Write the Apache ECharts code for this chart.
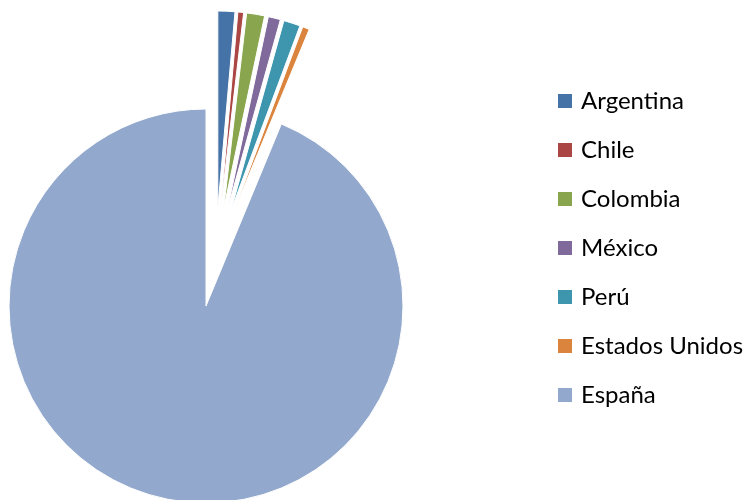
<!DOCTYPE html>
<html>
<head>
<meta charset="utf-8">
<script src="https://cdn.jsdelivr.net/npm/echarts@6/dist/echarts.min.js"></script>
<style>
  html, body { margin: 0; padding: 0; background: #fff; }
  #chart { width: 747px; height: 500px; }
</style>
</head>
<body>
<div id="chart"></div>
<script>
// Share of each country
const countries = ['Argentina', 'Chile', 'Colombia', 'México', 'Perú', 'Estados Unidos', 'España'];
const values = [139, 47, 147, 100, 136, 56, 9375];
const colors = ['#4572A7', '#AA4643', '#89A54E', '#80699B', '#3D96AE', '#DB843D', '#92A8CD'];

// Every slice is pulled out from the common centre by the same distance
const radius = 197;
const explode = 49.5;

// Place the pie so that the big slice sits at (206, 306) after being pulled out
const total = values.reduce((a, b) => a + b, 0);
const lastStart = (total - values[values.length - 1]) / total * 360;
const mid = (lastStart + 360) / 2 * Math.PI / 180;
const cx = 206 - explode * Math.sin(mid);
const cy = 306 + explode * Math.cos(mid);

const chart = echarts.init(document.getElementById('chart'), null, { renderer: 'canvas' });
chart.setOption({
  animation: false,
  color: colors,
  legend: {
    orient: 'vertical',
    left: 558,
    top: 89,
    padding: 0,
    itemWidth: 14,
    itemHeight: 14,
    itemGap: 25,
    icon: 'rect',
    selectedMode: false,
    data: countries,
    itemStyle: { borderWidth: 0 },
    textStyle: {
      fontFamily: 'Lato',
      fontSize: 24,
      lineHeight: 24,
      color: '#000',
      padding: [0, 0, 0, 4]
    }
  },
  series: [{
    type: 'pie',
    center: [cx, cy],
    radius: radius,
    startAngle: 90,
    clockwise: true,
    selectedMode: 'multiple',
    selectedOffset: explode,
    avoidLabelOverlap: false,
    label: { show: false },
    labelLine: { show: false },
    emphasis: { disabled: true },
    itemStyle: { borderColor: '#fff', borderWidth: 1 },
    data: countries.map((name, i) => ({ name: name, value: values[i], selected: true }))
  }]
});
</script>
</body>
</html>
